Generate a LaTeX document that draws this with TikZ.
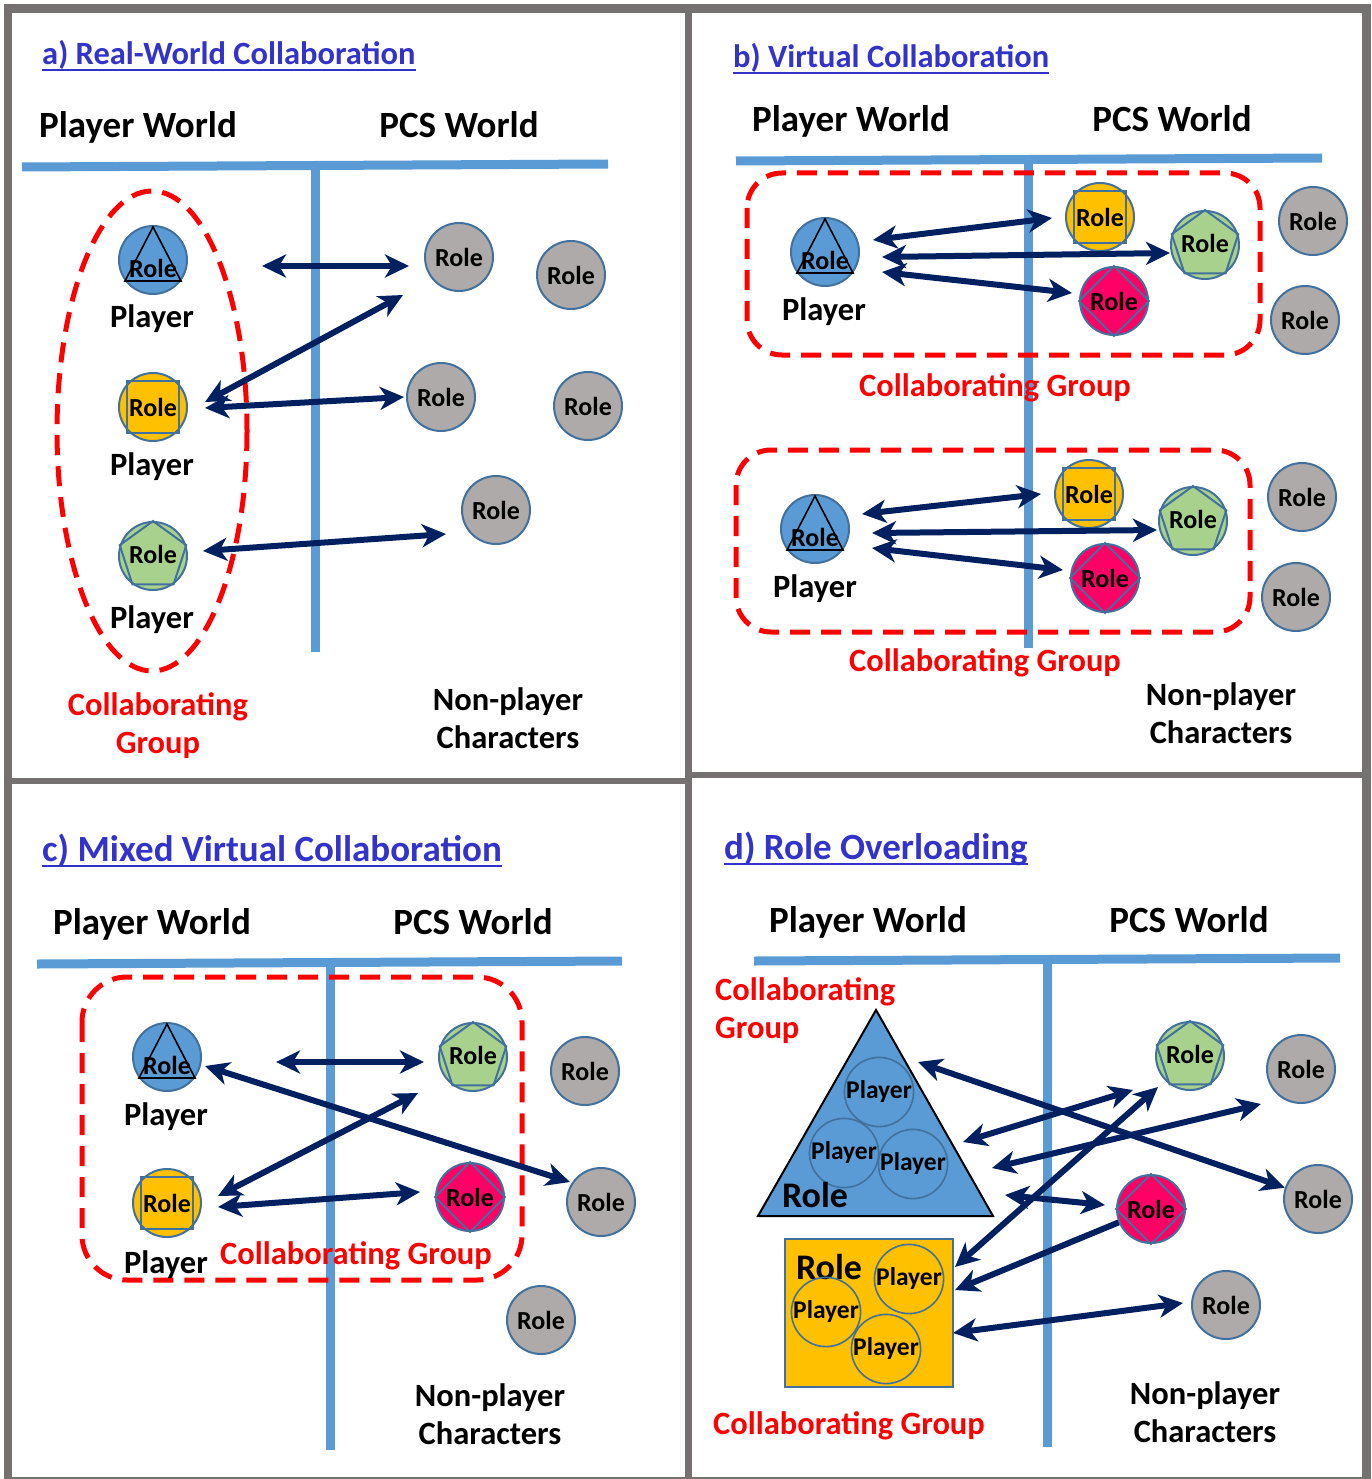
\documentclass[tikz,border=0pt]{standalone}
\usepackage{fontspec}
\setmainfont{Carlito}
\usetikzlibrary{arrows.meta,calc}
\definecolor{framegray}{HTML}{767171}
\definecolor{wline}{HTML}{5B9BD5}
\definecolor{navy}{HTML}{002060}
\definecolor{titleblue}{HTML}{3333CC}
\definecolor{rolegray}{HTML}{AEAAAA}
\definecolor{edge}{HTML}{41719C}
\definecolor{pyellow}{HTML}{FFC000}
\definecolor{pgreen}{HTML}{A9D18E}
\definecolor{ppink}{HTML}{FF0066}
\definecolor{pblue}{HTML}{5B9BD5}
\definecolor{gred}{HTML}{FF0000}
\tikzset{
 hdr/.style={font=\fontsize{37}{44}\selectfont\bfseries, inner sep=0pt, anchor=base},
 lbl/.style={font=\fontsize{32.5}{38}\selectfont\bfseries, inner sep=0pt, align=center},
 redlbl/.style={lbl, text=gred},
 ttl/.style={font=\fontsize{32.5}{38}\selectfont\bfseries, text=titleblue, inner sep=0pt, anchor=base west},
 bigttl/.style={ttl, font=\fontsize{37}{44}\selectfont\bfseries},
 ttlline/.style={draw=titleblue, line width=2pt},
 rolec/.style={circle, draw=edge, line width=2pt, minimum size=68pt, inner sep=0pt, font=\fontsize{26}{30}\selectfont\bfseries},
 npc/.style={rolec, fill=rolegray},
 shapeline/.style={draw=edge, line width=2pt},
 roletxt/.style={font=\fontsize{26}{30}\selectfont\bfseries, inner sep=0pt},
 bigrole/.style={font=\fontsize{36}{42}\selectfont\bfseries, inner sep=0pt},
 wl/.style={draw=wline, line width=9pt},
 grp/.style={draw=gred, line width=5pt, dash pattern=on 20pt off 11pt},
 conn/.style={draw=navy, line width=6pt, arrows={Stealth[length=24pt,width=23pt,inset=7pt]-Stealth[length=24pt,width=23pt,inset=7pt]}},
 conn1/.style={draw=navy, line width=6pt, arrows={-Stealth[length=24pt,width=23pt,inset=7pt]}},
 inplayer/.style={circle, draw=edge, line width=1.6pt, minimum size=67pt, inner sep=0pt, font=\fontsize{25.5}{30}\selectfont\bfseries},
}
\newcommand{\triRole}[3]{%
 \node[rolec, fill=pblue] (#1) at (#2,#3) {};
 \draw[black, line width=1.6pt] ($(#1)+(0,-33)$) -- ($(#1)+(28,21)$) -- ($(#1)+(-28,21)$) -- cycle;
 \node[roletxt] at ($(#1)+(0,8)$) {Role};}
\newcommand{\sqRole}[3]{%
 \node[rolec, fill=pyellow] (#1) at (#2,#3) {};
 \draw[shapeline] ($(#1)+(-26,-26)$) rectangle ($(#1)+(26,26)$);
 \node[roletxt] at (#1) {Role};}
\newcommand{\pentRole}[3]{%
 \node[rolec, fill=pgreen] (#1) at (#2,#3) {};
 \draw[shapeline] ($(#1)+(-90:35)$) -- ($(#1)+(-18:35)$) -- ($(#1)+(54:35)$) -- ($(#1)+(126:35)$) -- ($(#1)+(198:35)$) -- cycle;
 \node[roletxt] at ($(#1)+(0,-2)$) {Role};}
\newcommand{\diaRole}[3]{%
 \node[rolec, fill=ppink] (#1) at (#2,#3) {};
 \draw[shapeline] ($(#1)+(0,-35)$) -- ($(#1)+(35,0)$) -- ($(#1)+(0,35)$) -- ($(#1)+(-35,0)$) -- cycle;
 \node[roletxt] at (#1) {Role};}
\newcommand{\ttlUL}[1]{\draw[ttlline] ([yshift=-5pt]#1.base west) -- ([yshift=-5pt]#1.base east);}
\begin{document}
\begin{tikzpicture}[x=1pt,y=-1pt]
\useasboundingbox (0,0) rectangle (1371,1479);
\fill[white] (0,0) rectangle (1371,1479);
% frame
\draw[draw=framegray, line width=8.5pt] (8,8.5) rectangle (1366.5,1481);
\draw[draw=framegray, line width=7pt] (688,8) -- (688,1479);
\draw[draw=framegray, line width=6pt] (8,781) -- (688,781);
\draw[draw=framegray, line width=6pt] (688,775) -- (1366,775);

%%%%%%%%%%%%%%%% panel a
\node[ttl] (aT) at (42,65) {a) Real-World Collaboration};
\ttlUL{aT}
\node[hdr] (aPW) at (138,138) {Player World};
\node[hdr] (aPCS) at (459,138) {PCS World};
\draw[wl] (22,167) -- (608,164);
\draw[wl] (315,166) -- (315,652);
\draw[grp] (152,431) ellipse [x radius=95, y radius=240];
\triRole{aP1}{153}{260}
\node[lbl] (aL1) at (152,319) {Player};
\sqRole{aP2}{153}{407}
\node[lbl] (aL2) at (152,467) {Player};
\pentRole{aP3}{153}{556}
\node[lbl] (aL3) at (152,620) {Player};
\node[npc] (aR1) at (459,257) {Role};
\node[npc] (aR2) at (571,275) {Role};
\node[npc] (aR3) at (441,397) {Role};
\node[npc] (aR4) at (588,406) {Role};
\node[npc] (aR5) at (496,510) {Role};
\coordinate (a1s) at (262,266); \coordinate (a1e) at (409,266);
\coordinate (a2s) at (205,402); \coordinate (a2e) at (403,295);
\coordinate (a3s) at (205,408); \coordinate (a3e) at (404,397);
\coordinate (a4s) at (203,551); \coordinate (a4e) at (446,534);
\draw[conn] (a1s) -- (a1e);
\draw[conn] (a2s) -- (a2e);
\draw[conn] (a3s) -- (a3e);
\draw[conn] (a4s) -- (a4e);
\node[redlbl] (aCG) at (158,726) {Collaborating\\Group};
\node[lbl] (aNPC) at (508,718) {Non-player\\Characters};

%%%%%%%%%%%%%%%% panel b
\node[ttl] (bT) at (733,68) {b) Virtual Collaboration};
\ttlUL{bT}
\node[hdr] (bPW) at (851,132) {Player World};
\node[hdr] (bPCS) at (1172,132) {PCS World};
\draw[wl] (736,161) -- (1322,158);
\draw[wl] (1028,160) -- (1028,648);
\draw[grp, rounded corners=35pt] (747,173) rectangle (1260,355);
\draw[grp, rounded corners=35pt] (736,450) rectangle (1250,632);
\triRole{bP1}{825}{252}
\node[lbl] (bL1) at (824,312) {Player};
\sqRole{bY1}{1100}{217}
\pentRole{bG1}{1205}{245}
\diaRole{bK1}{1114}{301}
\node[npc] (bR1) at (1313,221) {Role};
\node[npc] (bR2) at (1305,320) {Role};
\coordinate (b1s) at (873,240); \coordinate (b1e) at (1052,218);
\coordinate (b2s) at (882,257); \coordinate (b2e) at (1170,253);
\coordinate (b3s) at (882,272); \coordinate (b3e) at (1072,293);
\draw[conn] (b1s) -- (b1e);
\draw[conn] (b2s) -- (b2e);
\draw[conn] (b3s) -- (b3e);
\node[redlbl] (bCG1) at (995,388) {Collaborating Group};
\triRole{bP2}{815}{529}
\node[lbl] (bL2) at (815,589) {Player};
\sqRole{bY2}{1089}{494}
\pentRole{bG2}{1193}{521}
\diaRole{bK2}{1105}{578}
\node[npc] (bR3) at (1302,497) {Role};
\node[npc] (bR4) at (1296,597) {Role};
\coordinate (b4s) at (862,514); \coordinate (b4e) at (1041,494);
\coordinate (b5s) at (872,533); \coordinate (b5e) at (1157,530);
\coordinate (b6s) at (872,548); \coordinate (b6e) at (1063,570);
\draw[conn] (b4s) -- (b4e);
\draw[conn] (b5s) -- (b5e);
\draw[conn] (b6s) -- (b6e);
\node[redlbl] (bCG2) at (985,663) {Collaborating Group};
\node[lbl] (bNPC) at (1221,713) {Non-player\\Characters};

%%%%%%%%%%%%%%%% panel c
\node[bigttl] (cT) at (42,861) {c) Mixed Virtual Collaboration};
\ttlUL{cT}
\node[hdr] (cPW) at (152,934) {Player World};
\node[hdr] (cPCS) at (473,934) {PCS World};
\draw[wl] (37,964) -- (622,961);
\draw[wl] (330,963) -- (330,1450);
\draw[grp, rounded corners=45pt] (82,977) rectangle (522,1280);
\triRole{cP1}{167}{1057}
\node[lbl] (cL1) at (166,1117) {Player};
\sqRole{cP2}{167}{1203}
\node[lbl] (cL2) at (166,1265) {Player};
\pentRole{cG}{473}{1057}
\diaRole{cK}{470}{1197}
\node[npc] (cR1) at (585,1071) {Role};
\node[npc] (cR2) at (601,1202) {Role};
\node[npc] (cR3) at (541,1320) {Role};
\coordinate (c1s) at (276,1062); \coordinate (c1e) at (424,1062);
\coordinate (c2s) at (205,1066); \coordinate (c2e) at (570,1182);
\coordinate (c3s) at (218,1196); \coordinate (c3e) at (418,1093);
\coordinate (c4s) at (218,1207); \coordinate (c4e) at (420,1192);
\draw[conn] (c1s) -- (c1e);
\draw[conn] (c2s) -- (c2e);
\draw[conn] (c3s) -- (c3e);
\draw[conn] (c4s) -- (c4e);
\node[redlbl] (cCG) at (356,1256) {Collaborating Group};
\node[lbl] (cNPC) at (490,1414) {Non-player\\Characters};

%%%%%%%%%%%%%%%% panel d
\node[bigttl] (dT) at (724,859) {d) Role Overloading};
\ttlUL{dT}
\node[hdr] (dPW) at (868,932) {Player World};
\node[hdr] (dPCS) at (1189,932) {PCS World};
\draw[wl] (754,961) -- (1340,958);
\draw[wl] (1047,960) -- (1047,1447);
\node[redlbl, align=left, anchor=west] (dCG1) at (715,1011) {Collaborating\\Group};
\draw[fill=pblue, draw=black, line width=2pt] (876,1010) -- (993,1216) -- (758,1216) -- cycle;
\node[inplayer] (dA1) at (879,1092) {Player};
\node[inplayer] (dA2) at (844,1153) {Player};
\node[inplayer] (dA3) at (913,1164) {Player};
\node[bigrole] (dRT) at (815,1195) {Role};
\node[draw=edge, line width=2pt, fill=pyellow, minimum width=168pt, minimum height=148pt, inner sep=0pt] (dSq) at (869,1313) {};
\node[bigrole] (dRS) at (829,1267) {Role};
\node[inplayer] (dB1) at (909,1279) {Player};
\node[inplayer] (dB2) at (826,1312) {Player};
\node[inplayer] (dB3) at (886,1349) {Player};
\pentRole{dG}{1190}{1056}
\diaRole{dK}{1151}{1209}
\node[npc] (dR1) at (1301,1069) {Role};
\node[npc] (dR2) at (1318,1199) {Role};
\node[npc] (dR3) at (1226,1305) {Role};
\coordinate (d1s) at (918,1062);
\coordinate (d2s) at (963,1142); \coordinate (d2e) at (1133,1090);
\coordinate (d3s) at (992,1168); \coordinate (d3e) at (1261,1104);
\coordinate (d4s) at (1005,1195); \coordinate (d4e) at (1105,1205);
\coordinate (d5s) at (955,1267); \coordinate (d5e) at (1158,1087);
\coordinate (d6e) at (955,1290);
\coordinate (d7s) at (953,1333); \coordinate (d7e) at (1183,1303);
\draw[conn] (d1s) -- (dR2);
\draw[conn] (d2s) -- (d2e);
\draw[conn] (d3s) -- (d3e);
\draw[conn] (d4s) -- (d4e);
\draw[conn] (d5s) -- (d5e);
\draw[conn1] (dK) -- (d6e);
\draw[conn] (d7s) -- (d7e);
\node[redlbl] (dCG2) at (849,1426) {Collaborating Group};
\node[lbl] (dNPC) at (1205,1412) {Non-player\\Characters};
\end{tikzpicture}
\end{document}
